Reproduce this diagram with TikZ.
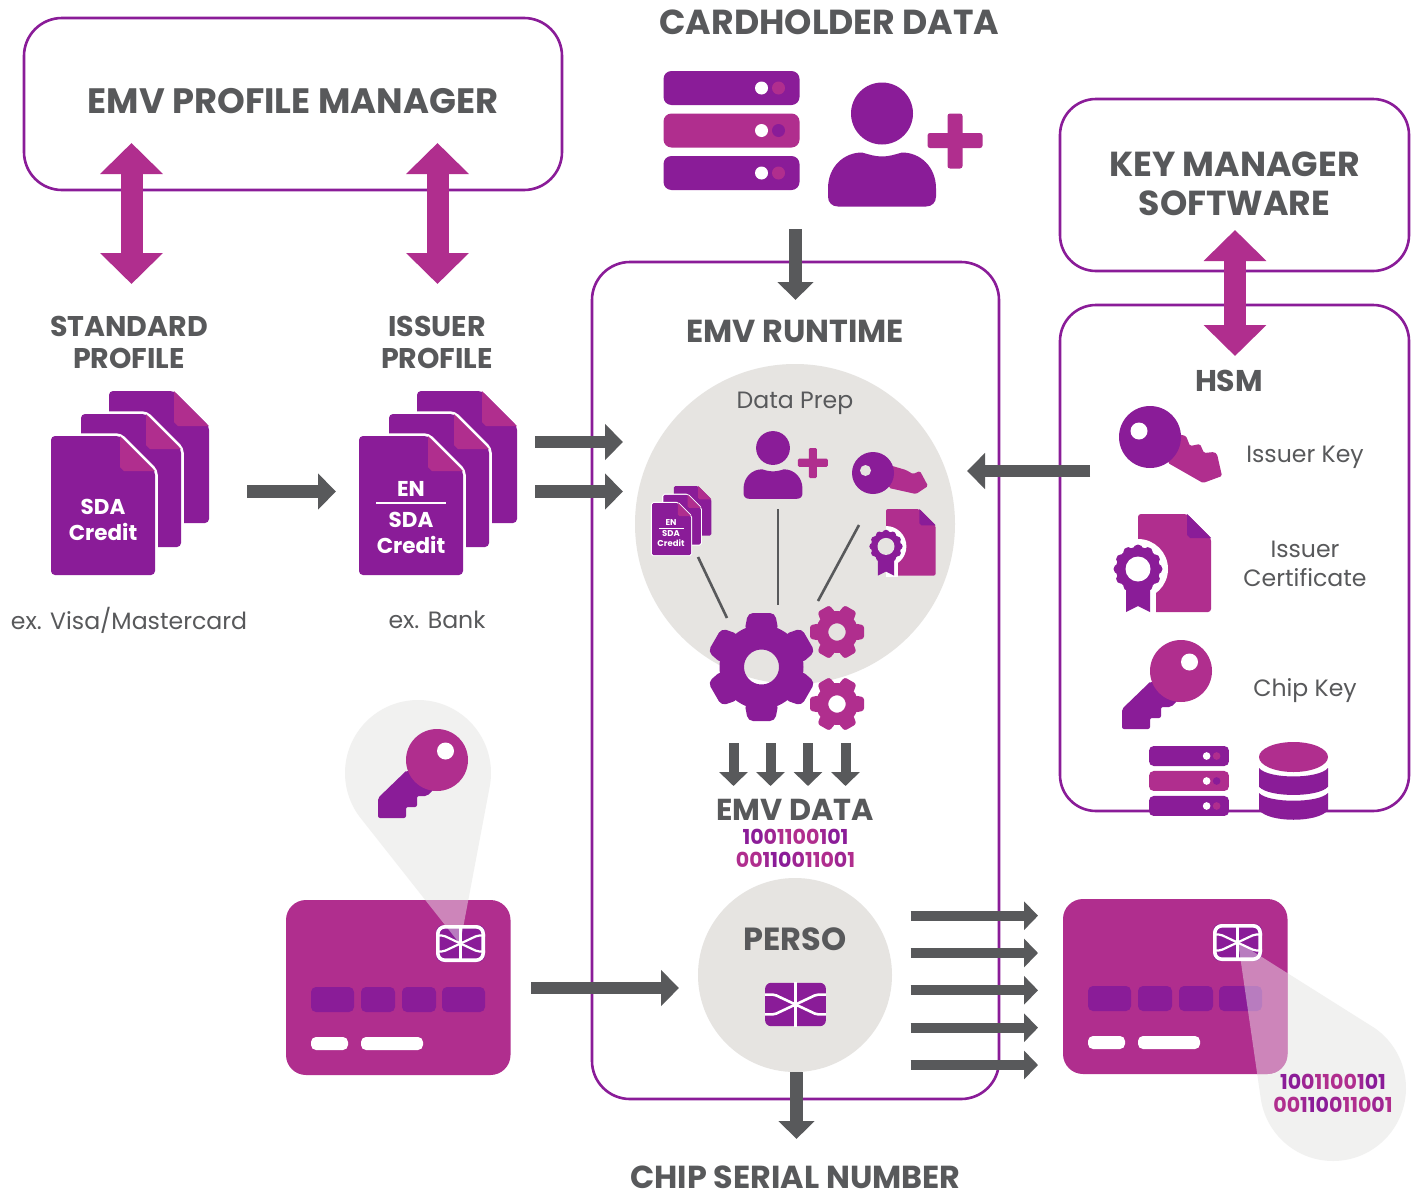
\documentclass[tikz,border=0pt]{standalone}
\usepackage{fontspec}
\setmainfont{Poppins}
\usetikzlibrary{arrows.meta}
\definecolor{mag}{HTML}{B02E8E}
\definecolor{pur}{HTML}{8A1C98}
\definecolor{dk}{HTML}{58595B}
\definecolor{bgc}{HTML}{E6E4E1}
\definecolor{drp}{HTML}{F1F1F0}
\colorlet{midc}{mag!50!pur}
\newcommand\fs[2]{\fontsize{#1}{#2}\selectfont}
\newcommand\cP[1]{\textcolor{pur}{#1}}
\newcommand\cM[1]{\textcolor{mag}{#1}}
\newcommand\cX[1]{\textcolor{midc}{#1}}
\tikzset{
  panel/.style={draw=pur,line width=2.6pt,fill=none,inner sep=0pt},
  head/.style={text=dk,font=\bfseries\fs{#1}{#1},inner sep=0pt,align=center},
  head/.default=29,
  body/.style={text=dk,font=\fs{23.6}{29},inner sep=0pt,align=center},
  binary/.style={font=\bfseries\fs{20.6}{23},inner sep=0pt,align=center},
  dkarrow/.style={draw=dk,line width=12.5pt,-{Triangle[length=18pt,width=35pt]}},
  dnarrow/.style={draw=dk,line width=10pt,-{Triangle[length=14pt,width=28pt]}},
  dblarrow/.style={draw=mag,line width=22pt,{Triangle[length=31pt,width=61pt]}-{Triangle[length=31pt,width=61pt]}},
  spoke/.style={draw=dk,line width=2.6pt},
  doctext/.style={text=white,inner sep=0pt,align=center},
}
% servers
\newcommand\servers[3]{\begin{scope}[shift={(#1,#2)},scale=#3]
  \foreach \yy/\ca/\cb in {0/pur/mag,42.5/mag/pur,85/pur/mag}{
    \fill[\ca,rounded corners=8*#3] (0,\yy) rectangle (136,\yy+34);
    \fill[white] (98,\yy+17) circle[radius=6.5];
    \fill[\cb] (115,\yy+17) circle[radius=6.5];
  }
\end{scope}}
% person with plus
\newcommand\person[3]{\begin{scope}[shift={(#1,#2)},scale=#3]
  \fill[pur] (0,0) circle[radius=31];
  \fill[pur] (-44,93) .. controls (-50,93) and (-54,89) .. (-54,83) -- (-54,75)
     .. controls (-54,53) and (-38,39) .. (-20,39) .. controls (-13,41) and (-7,43) .. (0,43)
     .. controls (7,43) and (13,41) .. (20,39) .. controls (38,39) and (54,53) .. (54,75)
     -- (54,83) .. controls (54,89) and (50,93) .. (44,93) -- cycle;
  \fill[mag,rounded corners=2.5*#3] (45.5,19.5) rectangle (100.5,34.5);
  \fill[mag,rounded corners=2.5*#3] (65.5,0) rectangle (80.5,55);
\end{scope}}
% gear
\newcommand\gear[5]{\begin{scope}[shift={(#1,#2)},scale=#3,rotate=#4,even odd rule]
  \clip (-80,-80) rectangle (80,80) (0,0) circle[radius=17.5];
  \fill[#5] (0,0) circle[radius=42];
  \foreach \aa in {0,60,...,300}{
    \fill[#5,rotate=\aa,rounded corners=5*#3] (-13.5,-54) -- (13.5,-54) -- (17,-36) -- (-17,-36) -- cycle;
  }
\end{scope}}
% stack of documents
\newcommand\onedoc[6]{% x0 y0 x1 y1 scale halo
  \ifx#6\relax\else
  \path[draw=white,line width=5.5*#5,rounded corners=4*#5] (#1,#2) -- (#3-35,#2) -- (#3,#2+35) -- (#3,#4) -- (#1,#4) -- cycle;
  \fi
  \fill[pur,rounded corners=4*#5] (#1,#2) -- (#3-35,#2) -- (#3,#2+35) -- (#3,#4) -- (#1,#4) -- cycle;
  \fill[mag] (#3-35,#2) -- (#3,#2+35) -- (#3-31,#2+35) -- (#3-35,#2+31) -- cycle;
}
\newcommand\docstack[3]{\begin{scope}[shift={(#1,#2)},scale=#3]
  \onedoc{58}{-45}{158}{87}{#3}{\relax}
  \onedoc{30}{-22}{130}{111}{#3}{1}
  \onedoc{0}{0}{104}{139}{#3}{1}
\end{scope}}
% certificate
\newcommand\cert[6]{\begin{scope}[shift={(#1,#2)},scale=#3]
  \def\dpath{(0,0) -- (49,0) -- (73,24) -- (73,98) -- (0,98) -- cycle}
  \fill[#4,rounded corners=3*#3] \dpath;
  \begin{scope}\clip (0,0) rectangle (74,99);
    \fill[white] (0,55) circle[radius=30];
    \fill[white] (-18,60) rectangle (18,100);
  \end{scope}
  \fill[#5] (49,0) -- (73,24) -- (52,24) -- (49,21) -- cycle;
  \fill[#5] (-12,60) -- (12,60) -- (12,98) -- (0,92) -- (-12,98) -- cycle;
  \fill[#5] (0,55) circle[radius=22];
  \foreach \aa in {0,30,...,330}{\fill[#5] (0,55) ++(\aa:19.5) circle[radius=5];}
  \fill[#6] (0,55) circle[radius=12.5];
\end{scope}}
% chip
\newcommand\chiplines[1]{%
  \draw[white,line width=#1,rounded corners=2] (-24.5,-8) -- (-17,-8) -- (0,0) -- (17,-8) -- (24.5,-8);
  \draw[white,line width=#1,rounded corners=2] (-24.5,8) -- (-17,8) -- (0,0) -- (17,8) -- (24.5,8);
  \draw[white,line width=#1] (0,-18) -- (0,18);
}
% card
\newcommand\cardbase[2]{\begin{scope}[shift={(#1,#2)}]
  \fill[mag,rounded corners=20] (0,0) rectangle (224.5,175);
  \foreach \xa/\xb in {25/68,75/109,116/150,156/199}{
    \fill[pur,rounded corners=5] (\xa,87) rectangle (\xb,112);
  }
  \fill[white,rounded corners=5] (25,137) rectangle (62,150);
  \fill[white,rounded corners=5] (75,137) rectangle (137,150);
  \fill[pur,rounded corners=7] (150,25) rectangle (199,62);
\end{scope}}
\newcommand\cardframe[2]{\begin{scope}[shift={(#1,#2)}]
  \draw[white,line width=3.6pt,rounded corners=7] (151.8,26.8) rectangle (197.2,60.2);
  \begin{scope}[shift={(174.5,43.5)}]\chiplines{2.2pt}\end{scope}
\end{scope}}
\begin{document}
\begin{tikzpicture}[x=1pt,y=-1pt]
\useasboundingbox (0,0) rectangle (1414,1194);
\fill[white] (0,0) rectangle (1414,1194);

% panels
\node[panel,rounded corners=38,minimum width=538pt,minimum height=172pt] (pm) at (293,104) {};
\node[panel,rounded corners=36,minimum width=349pt,minimum height=172pt] (km) at (1234.5,185) {};
\node[panel,rounded corners=36,minimum width=349pt,minimum height=506pt] (hsmbox) at (1234.5,558) {};
\node[panel,rounded corners=38,minimum width=407pt,minimum height=837pt] (rt) at (795.5,680.5) {};

% titles
\node[head=34.7] (tcard) at (829.5,22.5) {CARDHOLDER DATA};
\node[head=35.3] (tpm) at (293,101) {EMV PROFILE MANAGER};
\node[head=34.7,font=\bfseries\fs{34.7}{39}] (tkm) at (1234.5,183.5) {KEY MANAGER\\SOFTWARE};
\node[head=28.5,font=\bfseries\fs{28.5}{32}] (tstd) at (129,342) {STANDARD\\PROFILE};
\node[head=28.5,font=\bfseries\fs{28.5}{32}] (tiss) at (437,342) {ISSUER\\PROFILE};
\node[head=31.8] (trt) at (795,331.5) {EMV RUNTIME};
\node[head=30] (thsm) at (1229,381) {HSM};
\node[body] (tex1) at (129,620) {ex. Visa/Mastercard};
\node[body] (tex2) at (437,620) {ex. Bank};
\node[body] (tik) at (1305,457) {Issuer Key};
\node[body] (tic) at (1305,563.5) {Issuer\\Certificate};
\node[body] (tck) at (1305,690.5) {Chip Key};

% cardholder icons
\servers{663.5}{71}{1}
\person{882}{113.5}{1}

% data prep circle
\node[circle,fill=bgc,minimum size=320pt,inner sep=0pt] (prep) at (795,524) {};
\node[body] (tprep) at (795,403) {Data Prep};
\person{773}{448}{0.546}
\docstack{652}{503}{0.375}
\node[doctext,font=\bfseries\fs{8.5}{8.5}] (dp1) at (671,523) {EN};
\coordinate (dpla) at (659,528);\coordinate (dplb) at (684,528);
\draw[white,line width=.9pt] (dpla) -- (dplb);
\node[doctext,font=\bfseries\fs{8.5}{10}] (dp2) at (671,539) {SDA\\Credit};
% small key
\begin{scope}[shift={(873,473)}]
  \fill[mag,rounded corners=1.5] (16,-8) -- (33,-3) -- (40,1) -- (47,-2) -- (55,13) -- (43,21) -- (16,15) -- cycle;
  \fill[pur] (0,0) circle[radius=21];
  \fill[bgc] (-7.5,-2.5) circle[radius=5.5];
\end{scope}
\cert{886}{509}{0.68}{mag}{pur}{bgc}
\coordinate (sa) at (698,557);\coordinate (sb) at (727,618);
\coordinate (sc) at (778,509);\coordinate (sd) at (778,605);
\coordinate (se) at (859,525);\coordinate (sf) at (818,601);
\draw[spoke] (sa) -- (sb);
\draw[spoke] (sc) -- (sd);
\draw[spoke] (se) -- (sf);
\gear{761.5}{667}{1}{0}{pur}
\gear{837}{632}{0.5}{30}{mag}
\gear{837}{704}{0.5}{30}{mag}

% EMV data
\foreach \xx/\nn in {733.5/a,770.5/b,808/c,845.5/d}{
  \coordinate (dt\nn) at (\xx,743);\coordinate (db\nn) at (\xx,786);
  \draw[dnarrow] (dt\nn) -- (db\nn);
}
\node[head=30.3] (tdata) at (795,810) {EMV DATA};
\node[binary] (tbin) at (795.5,848.5) {\cP1\cP0\cX0\cM1\cM1\cM0\cM0\cX1\cP0\cP1\\\cM0\cM0\cX1\cP1\cP0\cX0\cM1\cM1\cM0\cX0\cM1};

% perso
\node[circle,fill=bgc,minimum size=194pt,inner sep=0pt] (perso) at (795,975) {};
\node[head=32] (tperso) at (795,939.5) {PERSO};
\begin{scope}[shift={(795.5,1004.5)},scale=1.24]
  \fill[pur,rounded corners=6] (-24.5,-17.5) rectangle (24.5,17.5);
  \chiplines{2.6pt}
\end{scope}

% HSM icons
\begin{scope}[shift={(1150,437)}]
  \fill[mag,rounded corners=1.5] (20,-5) -- (36,-1) -- (40,9) -- (50,7) -- (54,16) -- (64,15) -- (67,17) -- (72,39) -- (53,46) -- (18,26) -- cycle;
  \fill[pur] (0,0) circle[radius=31];
  \fill[white] (-11,-6) circle[radius=8.5];
\end{scope}
\cert{1138}{514}{1}{mag}{pur}{white}
\newcommand\chipkey[2]{\begin{scope}[shift={(#1,#2)}]
  \fill[pur,rounded corners=2] (-30,10) -- (-59,38) -- (-59,58) -- (-31,58) -- (-31,47) -- (-20,47) -- (-20,36) -- (-10,36) -- (-2,28) -- cycle;
  \fill[mag] (0,0) circle[radius=31];
  \fill[white] (8.5,-9) circle[radius=8.5];
\end{scope}}
\chipkey{1181}{671}
\servers{1149}{746}{0.588}
\begin{scope}[shift={(1293.5,757)}]
  \fill[mag] (0,0) ellipse[x radius=34.5,y radius=15];
  \fill[pur] (-34.5,11) .. controls (-25,22.3) and (25,22.3) .. (34.5,11) -- (34.5,29.7) .. controls (25,40.7) and (-25,40.7) .. (-34.5,29.7) -- cycle;
  \fill[pur] (-34.5,36) .. controls (-25,46.3) and (25,46.3) .. (34.5,36) -- (34.5,53) .. controls (25,66) and (-25,66) .. (-34.5,53) -- cycle;
\end{scope}

% left card with callout
\def\dropL{(460,944) -- plot[variable=\t,domain=140:372,samples=70] ({418+73*cos(\t)},{773+73*sin(\t)}) -- cycle}
\fill[drp] \dropL;
\chipkey{437}{760}
\cardbase{286}{900}
\begin{scope}\clip[rounded corners=20] (286,900) rectangle (510.5,1075);
  \fill[drp,opacity=.45] \dropL;
\end{scope}
\cardframe{286}{900}

% right card with callout
\def\dropR{(1238,942) -- plot[variable=\t,domain=-55:172,samples=70] ({1333+73*cos(\t)},{1088+73*sin(\t)}) -- cycle}
\fill[drp] \dropR;
\cardbase{1063}{899}
\begin{scope}\clip[rounded corners=20] (1063,899) rectangle (1287.5,1074);
  \fill[drp,opacity=.45] \dropR;
\end{scope}
\cardframe{1063}{899}
\node[binary] (tbin2) at (1333,1093) {\cP1\cP0\cX0\cM1\cM1\cM0\cM0\cX1\cP0\cP1\\\cM0\cM0\cX1\cP1\cP0\cX0\cM1\cM1\cM0\cX0\cM1};

% document stacks
\docstack{51}{436}{1}
\node[doctext,font=\bfseries\fs{21.5}{26}] (d1) at (103,520) {SDA\\Credit};
\docstack{359}{436}{1}
\node[doctext,font=\bfseries\fs{21.5}{26}] (d2a) at (411,489) {EN};
\coordinate (dla) at (376,503);\coordinate (dlb) at (446,503);
\draw[white,line width=2.4pt] (dla) -- (dlb);
\node[doctext,font=\bfseries\fs{21.5}{26}] (d2b) at (411,533) {SDA\\Credit};

% arrows
\coordinate (a1a) at (131.5,143);\coordinate (a1b) at (131.5,284);
\coordinate (a2a) at (437.5,143);\coordinate (a2b) at (437.5,284);
\coordinate (a3a) at (1235,230);\coordinate (a3b) at (1235,356);
\draw[dblarrow] (a1a) -- (a1b);
\draw[dblarrow] (a2a) -- (a2b);
\draw[dblarrow] (a3a) -- (a3b);
\coordinate (b1a) at (795.5,229);\coordinate (b1b) at (795.5,300);
\draw[dkarrow] (b1a) -- (b1b);
\coordinate (b2a) at (247,491.5);\coordinate (b2b) at (336,491.5);
\draw[dkarrow] (b2a) -- (b2b);
\coordinate (b3a) at (535,442);\coordinate (b3b) at (623,442);
\draw[dkarrow] (b3a) -- (b3b);
\coordinate (b4a) at (535,491.5);\coordinate (b4b) at (623,491.5);
\draw[dkarrow] (b4a) -- (b4b);
\coordinate (b5a) at (1090,471);\coordinate (b5b) at (967,471);
\draw[dkarrow] (b5a) -- (b5b);
\coordinate (b6a) at (531,988);\coordinate (b6b) at (679,988);
\draw[dkarrow] (b6a) -- (b6b);
\foreach \yy/\nn in {915.7/a,953/b,990.3/c,1027.7/d,1065/e}{
  \coordinate (r\nn a) at (910.5,\yy);\coordinate (r\nn b) at (1038,\yy);
  \draw[dnarrow] (r\nn a) -- (r\nn b);
}
\coordinate (b7a) at (796.5,1072);\coordinate (b7b) at (796.5,1139);
\draw[dkarrow] (b7a) -- (b7b);

\node[head=31.8] (tchip) at (795.5,1177) {CHIP SERIAL NUMBER};
\end{tikzpicture}
\end{document}
